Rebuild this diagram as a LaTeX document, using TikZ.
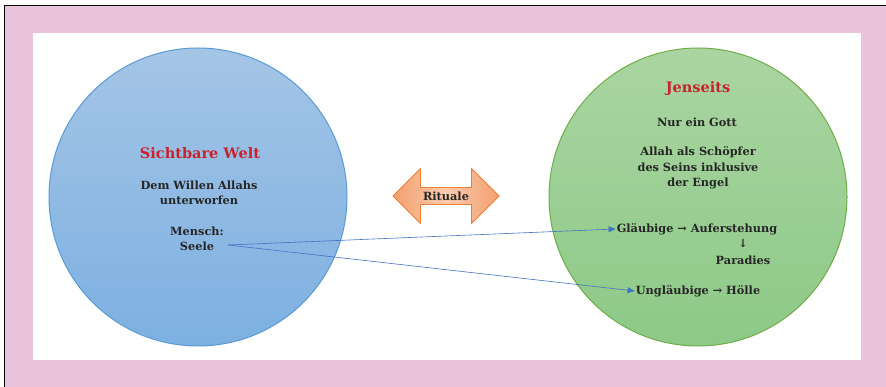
\documentclass[tikz,border=0pt]{standalone}
\usepackage{fontspec}
\setmainfont{DejaVu Serif}
\usepackage{tikz}
\usetikzlibrary{arrows.meta,shapes.arrows,positioning}
\definecolor{rahmen}{HTML}{EAC4DD}
\definecolor{titelrot}{HTML}{C8232C}
\definecolor{textgrau}{HTML}{262626}
\definecolor{pfeilblau}{HTML}{4472C4}
\begin{document}
\begin{tikzpicture}[x=1pt,y=-1pt,
welt/.style={circle,minimum size=298pt,line width=1pt},
txt/.style={font=\bfseries\fontsize{11.3}{15.5}\selectfont,text=textgrau,align=center,inner sep=1pt},
titel/.style={font=\bfseries\fontsize{14.5}{17}\selectfont,text=titelrot,inner sep=1pt},
verbindung/.style={pfeilblau,line width=0.6pt,-{Triangle[length=7pt,width=6pt]}}]
 \useasboundingbox (0,0) rectangle (886,387);
 % Rahmen
 \fill[rahmen] (4,6) rectangle (886,387);
 \draw[line width=0.6pt] (3.8,387) -- (3.8,5.8) -- (886,5.8);
 \fill[white] (33,33) rectangle (861,360);
 % Kreise
 \node[welt,draw={rgb,255:red,91;green,155;blue,213},top color={rgb,255:red,164;green,197;blue,230},bottom color={rgb,255:red,125;green,176;blue,225}] (sichtbar) at (198,197) {};
 \node[welt,draw={rgb,255:red,112;green,173;blue,71},top color={rgb,255:red,170;green,213;blue,162},bottom color={rgb,255:red,141;green,201;blue,135}] (jenseits) at (698,197) {};
 % Doppelpfeil
 \node[double arrow,draw={rgb,255:red,237;green,125;blue,49},line width=0.8pt,
 left color={rgb,255:red,244;green,160;blue,112},right color={rgb,255:red,244;green,160;blue,112},middle color={rgb,255:red,248;green,203;blue,173},
 minimum width=55pt,minimum height=106pt,double arrow head extend=13pt,inner sep=2pt,
 txt] (rituale) at (446,196) {Rituale};
 % linke Seite
 \node[titel] (tw) at (200,153) {Sichtbare Welt};
 \node[txt] (wille) at (199,193) {Dem Willen Allahs\\unterworfen};
 \node[txt] (mensch) at (197,239) {Mensch:\\Seele};
 \coordinate (seele) at (228,245);
 % rechte Seite
 \node[titel] (tj) at (698,89) {Jenseits};
 \node[txt] (gott) at (697,122) {Nur ein Gott};
 \node[txt] (allah) at (698,168) {Allah als Schöpfer\\des Seins inklusive\\der Engel};
 \node[txt] (glaeubige) at (697,229) {Gläubige → Auferstehung};
 \node[txt] (pfeil) at (743,244) {↓};
 \node[txt] (paradies) at (743,260) {Paradies};
 \node[txt] (unglaeubige) at (698,291) {Ungläubige → Hölle};
 % Verbindungen
 \draw[verbindung] (seele) -- (glaeubige.west);
 \draw[verbindung] (seele) -- (unglaeubige.west);
\end{tikzpicture}
\end{document}
